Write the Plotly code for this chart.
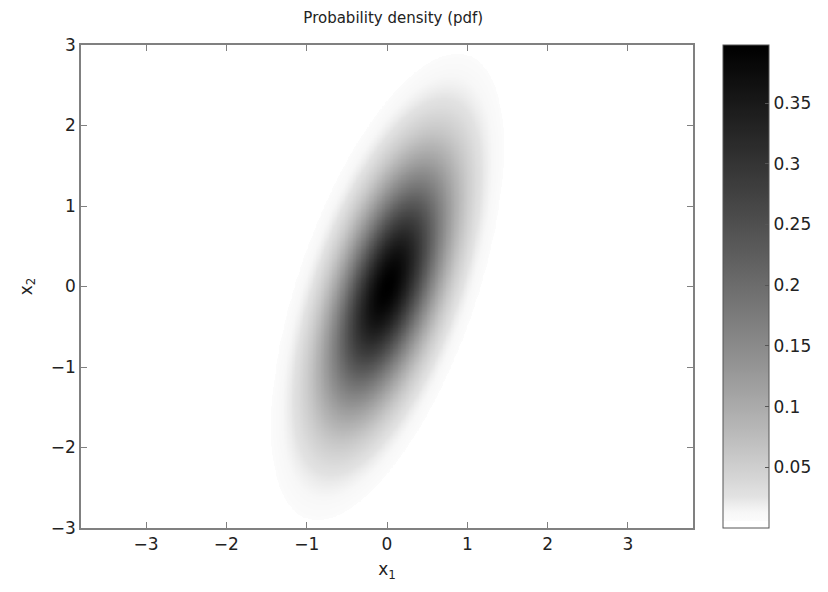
import numpy as np
import plotly.graph_objects as go

# Distribution parameters
mean = [0.0, 0.0]
cov = [[0.25, 0.3], [0.3, 1.0]]

x_ticks = [-3, -2, -1, 0, 1, 2, 3]
y_ticks = [-3, -2, -1, 0, 1, 2, 3]
cbar_ticks = [0.05, 0.1, 0.15, 0.2, 0.25, 0.3, 0.35]
cbar_labels = ["0.05", "0.1", "0.15", "0.2", "0.25", "0.3", "0.35"]

x1 = np.linspace(-3.9, 3.9, 391)
x2 = np.linspace(-3.0, 3.0, 301)
X1, X2 = np.meshgrid(x1, x2)
S = np.array(cov)
Si = np.linalg.inv(S)
d1 = X1 - mean[0]
d2 = X2 - mean[1]
q = Si[0, 0] * d1 * d1 + 2 * Si[0, 1] * d1 * d2 + Si[1, 1] * d2 * d2
Z = np.exp(-0.5 * q) / (2 * np.pi * np.sqrt(np.linalg.det(S)))

# grey colormap (slightly darkened mid tones, faint lowest level)
def grey(f):
    d = f ** 0.8
    if f < 0.06:
        d = 0.016 + (d - 0.016) * (f - 0.016) / (0.06 - 0.016) * 1.0 if f > 0.016 else 0.016
        d = max(d, 0.016)
    g = int(round(255 * (1 - d)))
    return f"rgb({g},{g},{g})"

cscale = [[0.0, "rgb(255,255,255)"], [0.015, "rgb(255,255,255)"]]
for f in np.linspace(0.0151, 1.0, 60):
    cscale.append([float(f), grey(float(f))])

font = "DejaVu Sans, Liberation Sans, sans-serif"
minus = lambda v: str(v).replace("-", "\u2212")

fig = go.Figure(go.Heatmap(
    x=x1, y=x2, z=Z, zmin=0, zmax=float(Z.max()),
    zsmooth="best",
    colorscale=cscale,
    colorbar=dict(
        x=1.049, xanchor="left", xpad=0, y=0.5, yanchor="middle",
        len=1.0, lenmode="fraction", ypad=0, thickness=46,
        outlinecolor="#555555", outlinewidth=1,
        tickvals=cbar_ticks, ticktext=cbar_labels,
        ticks="inside", ticklen=4, tickcolor="#555555",
        tickfont=dict(family=font, size=17, color="#222222"),
    ),
    hoverinfo="skip",
))

fig.update_layout(
    width=828, height=592,
    margin=dict(l=81, r=130, t=45, b=64),
    paper_bgcolor="white", plot_bgcolor="white",
    font=dict(family=font, size=17, color="#222222"),
    title=dict(text="Probability density (pdf)", x=0.475, xanchor="center",
               y=1 - 18 / 592, yref="container", yanchor="middle",
               font=dict(family=font, size=15, color="#222222")),
)
fig.update_xaxes(
    range=[-3.81, 3.81], tickvals=x_ticks, ticktext=[minus(v) for v in x_ticks],
    showline=True, linecolor="#808080", linewidth=1.5, mirror="allticks",
    ticks="inside", ticklen=6, tickcolor="#808080", showgrid=False, zeroline=False,
    title=dict(text="x<sub>1</sub>", standoff=10, font=dict(size=17)),
)
fig.update_yaxes(
    range=[-3, 3], tickvals=y_ticks, ticktext=[minus(v) for v in y_ticks],
    showline=True, linecolor="#808080", linewidth=1.5, mirror="allticks",
    ticks="inside", ticklen=6, tickcolor="#808080", showgrid=False, zeroline=False,
    title=dict(text="x<sub>2</sub>", standoff=14, font=dict(size=17)),
)

fig.write_html("out.html")
